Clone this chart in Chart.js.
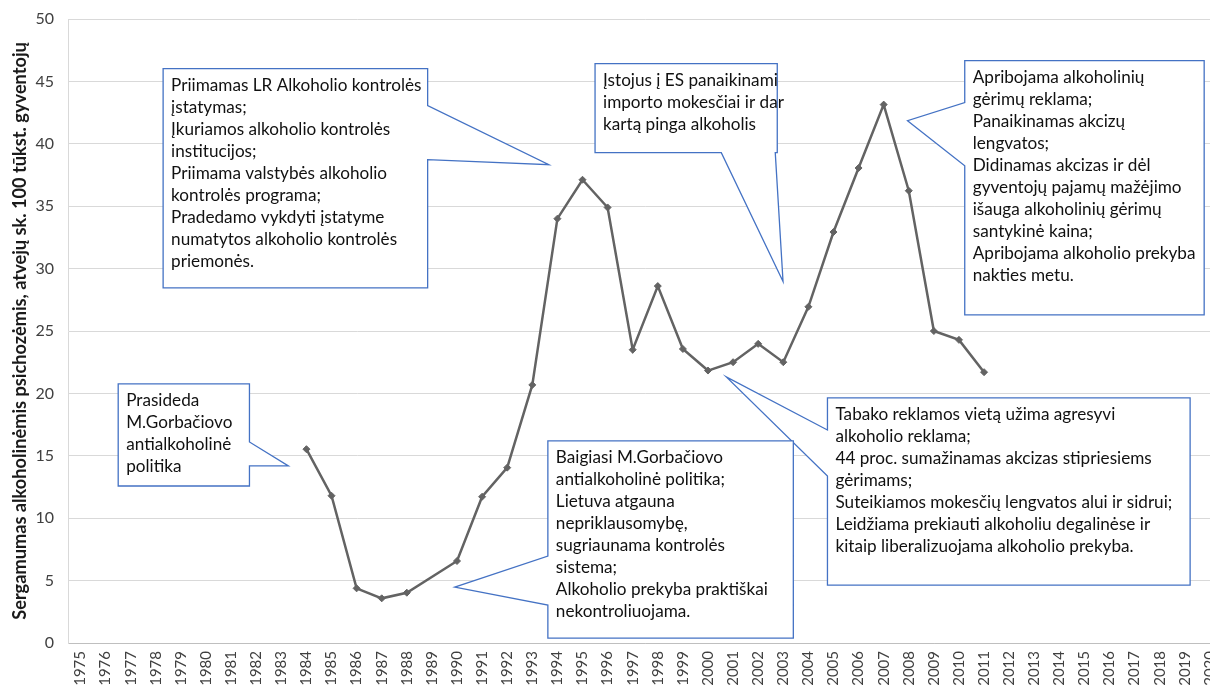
<!DOCTYPE html>
<html>
<head>
<meta charset="utf-8">
<script src="https://cdn.jsdelivr.net/npm/chart.js@4.4.1/dist/chart.umd.min.js"></script>
<style>
  html, body { margin: 0; padding: 0; background: #fff; overflow: hidden; width: 1210px; height: 688px; }
  #wrap { position: absolute; left: 0; top: 0; }
</style>
</head>
<body>
<div id="wrap"><canvas id="c" width="1236" height="700"></canvas></div>
<script>
// ---- data ----
const years = ['1975','1976','1977','1978','1979','1980','1981','1982','1983','1984','1985','1986','1987','1988','1989','1990','1991','1992','1993','1994','1995','1996','1997','1998','1999','2000','2001','2002','2003','2004','2005','2006','2007','2008','2009','2010','2011','2012','2013','2014','2015','2016','2017','2018','2019','2020'];
const cases = [null,null,null,null,null,null,null,null,null,
  15.53, 11.80, 4.38, 3.58, 4.03, null, 6.57, 11.72, 14.05, 20.68,
  34.0, 37.12, 34.9, 23.5, 28.6, 23.56, 21.83, 22.5, 23.97, 22.5,
  26.94, 32.93, 38.06, 43.14, 36.24, 25.0, 24.29, 21.7,
  null,null,null,null,null,null,null,null,null];
const yTicks = [0,5,10,15,20,25,30,35,40,45,50];
const yTitle = 'Sergamumas alkoholinėmis psichozėmis, atvejų sk. 100 tūkst. gyventojų';

const calloutTexts = [
  ['Prasideda', 'M.Gorbačiovo', 'antialkoholinė', 'politika'],
  ['Priimamas LR Alkoholio kontrolės', 'įstatymas;', 'Įkuriamos alkoholio kontrolės', 'institucijos;', 'Priimama valstybės alkoholio', 'kontrolės programa;', 'Pradedamo vykdyti įstatyme', 'numatytos alkoholio kontrolės', 'priemonės.'],
  ['Įstojus į ES panaikinami', 'importo mokesčiai ir dar', 'kartą pinga alkoholis'],
  ['Apribojama alkoholinių', 'gėrimų reklama;', 'Panaikinamas akcizų', 'lengvatos;', 'Didinamas akcizas ir dėl', 'gyventojų pajamų mažėjimo', 'išauga alkoholinių gėrimų', 'santykinė kaina;', 'Apribojama alkoholio prekyba', 'nakties metu.'],
  ['Tabako reklamos vietą užima agresyvi', 'alkoholio reklama;', '44 proc. sumažinamas akcizas stipriesiems', 'gėrimams;', 'Suteikiamos mokesčių lengvatos alui ir sidrui;', 'Leidžiama prekiauti alkoholiu degalinėse ir', 'kitaip liberalizuojama alkoholio prekyba.'],
  ['Baigiasi M.Gorbačiovo', 'antialkoholinė politika;', 'Lietuva atgauna', 'nepriklausomybę,', 'sugriaunama kontrolės', 'sistema;', 'Alkoholio prekyba praktiškai', 'nekontroliuojama.']
];

// ---- annotation placement (category index / value units) ----
const calloutGeom = [
  { box: [1.50, 20.76, 6.73, 12.58], edge: 'right', a: 16.11, b: 14.19, tip: [8.28, 14.19] },
  { box: [3.29, 46.02, 13.83, 28.46], edge: 'right', a: 43.06, b: 38.73, tip: [18.66, 38.32] },
  { box: [20.50, 46.42, 27.76, 39.29], edge: 'bottom', a: 25.53, b: 27.68, tip: [27.99, 28.97] },
  { box: [35.23, 46.66, 44.77, 26.30], edge: 'left', a: 43.30, b: 38.24, tip: [32.95, 41.85] },
  { box: [29.76, 19.64, 44.21, 4.64], edge: 'left', a: 17.07, b: 13.38, tip: [25.73, 21.32] },
  { box: [18.62, 16.19, 28.40, 0.39], edge: 'left', a: 6.97, b: 3.04, tip: [14.91, 4.48] }
];

const FONT = 'Lato, "Noto Sans", sans-serif';
const mctx = document.createElement('canvas').getContext('2d');
function fitSize(text, weight, target) {
  mctx.font = weight + ' 20px ' + FONT;
  return 20 * target / mctx.measureText(text).width;
}
const calloutSize = fitSize('Suteikiamos mokesčių lengvatos alui ir sidrui;', 'normal', 337);
const titleSize = fitSize(yTitle, 'bold', 578);

const calloutPlugin = {
  id: 'callouts',
  beforeDatasetsDraw(chart) {
    const { ctx, scales: { x, y } } = chart;
    const X = v => x.getPixelForValue(v);
    const Y = v => y.getPixelForValue(v);
    ctx.save();
    calloutGeom.forEach((g, i) => {
      const x1 = X(g.box[0]), y1 = Y(g.box[1]), x2 = X(g.box[2]), y2 = Y(g.box[3]);
      const tx = X(g.tip[0]), ty = Y(g.tip[1]);
      ctx.beginPath();
      if (g.edge === 'right') {
        ctx.moveTo(x1, y1); ctx.lineTo(x2, y1); ctx.lineTo(x2, Y(g.a));
        ctx.lineTo(tx, ty); ctx.lineTo(x2, Y(g.b)); ctx.lineTo(x2, y2); ctx.lineTo(x1, y2);
      } else if (g.edge === 'bottom') {
        ctx.moveTo(x1, y1); ctx.lineTo(x2, y1); ctx.lineTo(x2, y2); ctx.lineTo(X(g.b), y2);
        ctx.lineTo(tx, ty); ctx.lineTo(X(g.a), y2); ctx.lineTo(x1, y2);
      } else {
        ctx.moveTo(x1, y1); ctx.lineTo(x2, y1); ctx.lineTo(x2, y2); ctx.lineTo(x1, y2);
        ctx.lineTo(x1, Y(g.b)); ctx.lineTo(tx, ty); ctx.lineTo(x1, Y(g.a));
      }
      ctx.closePath();
      ctx.fillStyle = '#ffffff';
      ctx.fill();
      ctx.lineWidth = 1.3;
      ctx.strokeStyle = '#4472C4';
      ctx.stroke();
      ctx.fillStyle = '#111111';
      ctx.font = calloutSize.toFixed(2) + 'px ' + FONT;
      ctx.textBaseline = 'middle';
      ctx.textAlign = 'left';
      calloutTexts[i].forEach((line, k) => {
        ctx.fillText(line, x1 + 8, y1 + 16.5 + k * 22);
      });
    });
    ctx.restore();
  }
};

new Chart(document.getElementById('c'), {
  type: 'line',
  data: {
    labels: years,
    datasets: [{
      data: cases,
      borderColor: '#636363',
      backgroundColor: '#636363',
      borderWidth: 2.5,
      pointStyle: 'rectRot',
      pointRadius: 3.5,
      pointBorderWidth: 1,
      pointBackgroundColor: '#636363',
      pointBorderColor: '#636363',
      spanGaps: true,
      tension: 0
    }]
  },
  options: {
    responsive: false,
    animation: false,
    events: [],
    layout: { padding: { top: 19, right: 0, left: 0, bottom: 0 } },
    plugins: { legend: { display: false }, tooltip: { enabled: false } },
    scales: {
      x: {
        offset: true,
        grid: { display: false, drawTicks: false },
        border: { display: true, color: '#bfbfbf', width: 1 },
        ticks: {
          autoSkip: false, minRotation: 90, maxRotation: 90, padding: 8,
          color: '#404040', font: { family: FONT, size: 15 }
        },
        afterFit(scale) { scale.height = 57; }
      },
      y: {
        min: 0, max: 50,
        afterBuildTicks(scale) { scale.ticks = yTicks.map(v => ({ value: v })); },
        grid: { color: '#d9d9d9', lineWidth: 1, drawTicks: false },
        border: { display: true, color: '#d9d9d9' },
        ticks: { padding: 14, color: '#404040', font: { family: FONT, size: 16, lineHeight: 0.5 } },
        title: {
          display: true, text: yTitle, color: '#1a1a1a',
          font: { family: FONT, size: titleSize, weight: 'bold' },
          padding: { top: 20 - titleSize * 0.6, bottom: 0 }
        },
        afterFit(scale) { scale.width = 68; }
      }
    }
  },
  plugins: [calloutPlugin]
});
</script>
</body>
</html>
